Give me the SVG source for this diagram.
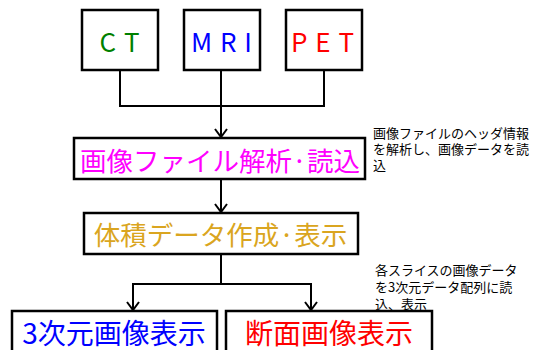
<svg xmlns="http://www.w3.org/2000/svg" width="536" height="350" viewBox="0 0 536 350">
<style>
.box{fill:#fff;stroke:#000;stroke-width:2.5}
.line{fill:none;stroke:#000;stroke-width:2}
.t{font-family:"Noto Sans CJK JP","Noto Sans",sans-serif;text-anchor:middle;dominant-baseline:central}
.lat{font-size:26px}
.big{font-size:26.5px}
.note{font-family:"Noto Sans CJK JP","Noto Sans",sans-serif;font-size:13px;fill:#000;dominant-baseline:central}
</style>
<defs>
<marker id="arr" markerWidth="14" markerHeight="14" refX="12" refY="7" orient="auto" markerUnits="userSpaceOnUse" viewBox="0 0 14 14">
<polyline points="4,1 12,7 4,13" fill="none" stroke="#000" stroke-width="2"/>
</marker>
</defs>
<rect width="536" height="350" fill="#fff"/>
<g id="connectors">
<polyline class="line" points="120,70 120,106 324,106 324,70"/>
<line class="line" x1="221" y1="70" x2="221" y2="137" marker-end="url(#arr)"/>
<line class="line" x1="221" y1="179" x2="221" y2="212" marker-end="url(#arr)"/>
<polyline class="line" points="133,300 133,284 311,284 311,300"/>
<line class="line" x1="221" y1="254" x2="221" y2="284"/>
<line class="line" x1="133" y1="290" x2="133" y2="310" marker-end="url(#arr)"/>
<line class="line" x1="311" y1="290" x2="311" y2="310" marker-end="url(#arr)"/>
</g>
<g id="ct">
<rect class="box" x="82" y="10" width="76" height="60"/>
<text class="t lat" x="120" y="40" fill="#008000" letter-spacing="1">C T</text>
</g>
<g id="mri">
<rect class="box" x="184" y="10" width="76" height="60"/>
<text class="t lat" x="222" y="40" fill="#0000FF" letter-spacing="1">M R I</text>
</g>
<g id="pet">
<rect class="box" x="286" y="10" width="76" height="60"/>
<text class="t lat" x="323" y="40" fill="#FF0000" letter-spacing="1">P E T</text>
</g>
<g id="parse">
<rect class="box" x="74" y="138" width="291" height="41"/>
<text class="t big" x="220" y="159.5" fill="#FF00FF">画像ファイル解析·読込</text>
</g>
<g id="volume">
<rect class="box" x="84" y="213" width="274" height="41"/>
<text class="t big" x="220.5" y="233.5" fill="#DAA520">体積データ作成·表示</text>
</g>
<g id="render3d">
<rect class="box" x="12" y="311" width="205" height="50"/>
<text class="t" x="114" y="331.5" font-size="28" fill="#0000FF">3次元画像表示</text>
</g>
<g id="section">
<rect class="box" x="226" y="311" width="206" height="50"/>
<text class="t" x="329" y="331.5" font-size="28" fill="#FF0000">断面画像表示</text>
</g>
<g id="note1">
<text class="note"><tspan x="373" y="132">画像ファイルのヘッダ情報</tspan><tspan x="373" y="148">を解析し、画像データを読</tspan><tspan x="373" y="164">込</tspan></text>
</g>
<g id="note2">
<text class="note"><tspan x="375" y="269">各スライスの画像データ</tspan><tspan x="375" y="286">を3次元データ配列に読</tspan><tspan x="375" y="302.5">込、表示</tspan></text>
</g>
</svg>
